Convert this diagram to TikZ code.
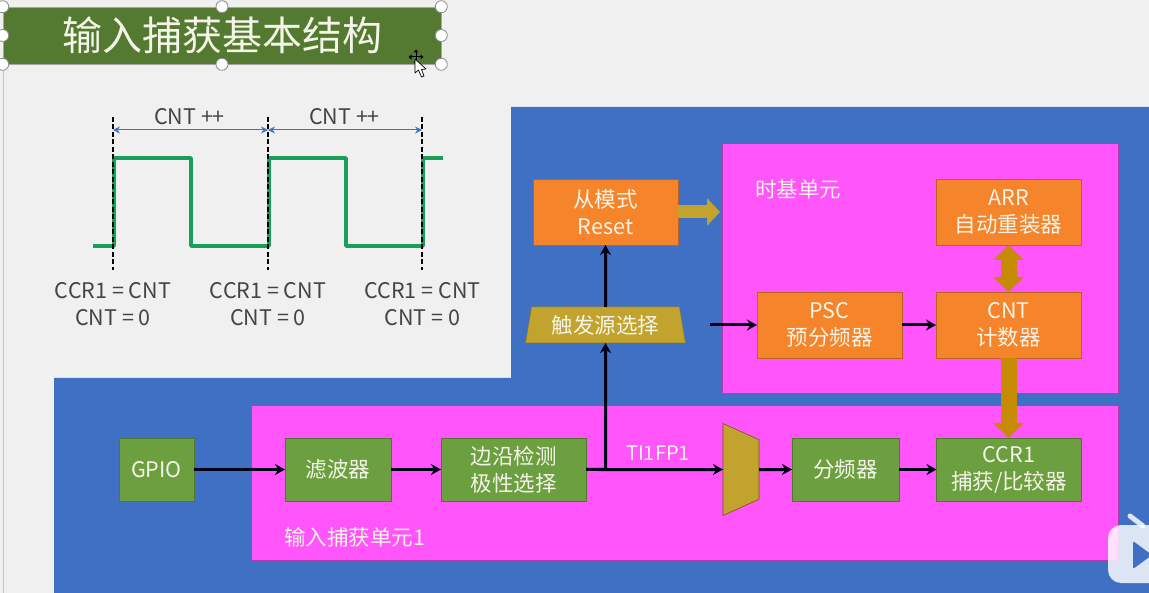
\documentclass[tikz,border=0pt]{standalone}
\usepackage{fontspec}
\setmainfont{Noto Sans CJK SC}
\usetikzlibrary{shapes.geometric,arrows.meta}
\definecolor{bgc}{HTML}{F0F0F0}
\definecolor{bluec}{HTML}{3F70C4}
\definecolor{pinkc}{HTML}{FF55FA}
\definecolor{orangec}{HTML}{F6842A}
\definecolor{greenc}{HTML}{6C9F3F}
\definecolor{titlec}{HTML}{537A30}
\definecolor{mustc}{HTML}{C2A32D}
\definecolor{busc}{HTML}{C68A05}
\definecolor{wavec}{HTML}{18A058}
\definecolor{txtc}{HTML}{F4F4E8}
\definecolor{grayt}{HTML}{444444}
\definecolor{arrb}{HTML}{4472C4}
\tikzset{
 x=1pt,y=-1pt,
 box/.style={draw=#1!75!black,line width=.6pt,fill=#1,text=txtc,align=center,inner sep=0pt,outer sep=0pt,font=\fontsize{21.5}{27}\selectfont},
 obox/.style={box=orangec,minimum width=145pt,minimum height=66pt},
 gbox/.style={box=greenc,minimum height=63pt},
 region/.style={fill=pinkc,draw=pinkc!70!black,line width=.5pt,inner sep=0pt,outer sep=0pt},
 sig/.style={line width=3pt,draw=black!90!blue,-{Stealth[length=10pt,width=11pt]}},
 bus/.style={line width=16pt,draw=busc},
 handle/.style={circle,draw=black!45,fill=white,line width=.8pt,minimum size=12pt,inner sep=0pt},
 dashv/.style={draw=black,line width=1.6pt,dash pattern=on 5pt off 2.5pt},
 span/.style={draw=arrb,line width=1pt,{Stealth[length=7pt,width=7pt]}-{Stealth[length=7pt,width=7pt]}},
 gtext/.style={text=grayt,align=center,font=\fontsize{21.5}{27}\selectfont,inner sep=0pt},
 wtext/.style={text=txtc,font=\fontsize{21.5}{26}\selectfont,inner sep=0pt},
}
\begin{document}
\begin{tikzpicture}
\useasboundingbox (0,0) rectangle (1149,593);
\fill[bgc] (0,0) rectangle (1149,593);
\draw[black!22,line width=1pt] (3,64) -- (3,593);
% blue backdrop
\fill[bluec] (511,107) -- (1149,107) -- (1149,593) -- (54,593) -- (54,378) -- (511,378) -- cycle;
% regions
\node[region,minimum width=396pt,minimum height=250pt] (tb) at (920,268) {};
\node[region,minimum width=867pt,minimum height=155pt] (ic) at (684.5,482.5) {};
\node[wtext,anchor=west] (tbl) at (755,189) {时基单元};
\node[wtext,anchor=west] (icl) at (284,537) {输入捕获单元1};
% title
\node[fill=titlec,draw=black!35,line width=.6pt,minimum width=438pt,minimum height=57pt,inner sep=0pt,text=txtc,font=\fontsize{40}{44}\selectfont] (title) at (222,35.5) {\raisebox{-1.5pt}{输入捕获基本结构}};
\foreach \a/\n in {north west/h1,north/h2,north east/h3,west/h4,east/h5,south west/h6,south/h7,south east/h8}
  \node[handle] (\n) at (title.\a) {};
% cursor
\draw[black,line width=1pt] (411,57) -- (421,57) (416,52) -- (416,62);
\fill[black] (416,49.5) -- (413.5,52.5) -- (418.5,52.5) -- cycle (416,64.5) -- (413.5,61.5) -- (418.5,61.5) -- cycle
  (408.5,57) -- (411.5,54.5) -- (411.5,59.5) -- cycle (423.5,57) -- (420.5,54.5) -- (420.5,59.5) -- cycle;
\draw[black,fill=white,line width=.7pt,line join=round] (415,59) -- (415,73) -- (418.5,70) -- (421.5,77) -- (424,76) -- (421.5,69.5) -- (426,69) -- cycle;
% waveform
\coordinate (d1t) at (113,117); \coordinate (d1b) at (113,270);
\coordinate (d2t) at (268,117); \coordinate (d2b) at (268,270);
\coordinate (d3t) at (422,117); \coordinate (d3b) at (422,270);
\draw[wavec,line width=3.4pt,line join=round] (93,246) -- (114,246) -- (114,158) -- (191,158) -- (191,246) -- (269,246) -- (269,158) -- (346,158) -- (346,246) -- (423,246) -- (423,158) -- (443,158);
\draw[dashv] (d1t) -- (d1b);
\draw[dashv] (d2t) -- (d2b);
\draw[dashv] (d3t) -- (d3b);
\coordinate (a1) at (113,130); \coordinate (a2) at (268,130); \coordinate (a3) at (422,130);
\draw[span] (a1) -- (a2);
\draw[span] (a2) -- (a3);
\node[gtext] (c1) at (189.5,117) {CNT ++};
\node[gtext] (c2) at (344.5,117) {CNT ++};
\node[gtext] (l1) at (113,304) {CCR1 = CNT\\CNT = 0};
\node[gtext] (l2) at (268,304) {CCR1 = CNT\\CNT = 0};
\node[gtext] (l3) at (422.5,304) {CCR1 = CNT\\CNT = 0};
% orange boxes
\node[obox] (slave) at (605.5,212) {从模式\\Reset};
\node[obox] (arr) at (1008.5,212) {ARR\\自动重装器};
\node[obox] (psc) at (829.5,325) {PSC\\预分频器};
\node[obox] (cnt) at (1008.5,325) {CNT\\计数器};
% trigger select
\node[trapezium,trapezium left angle=77.5,trapezium right angle=77.5,trapezium stretches=true,minimum width=160pt,minimum height=36pt,fill=mustc,draw=mustc!75!black,line width=.5pt,inner sep=0pt,outer sep=0pt,text=txtc,font=\fontsize{21.5}{24}\selectfont] (trig) at (605.5,325) {触发源选择};
% green boxes
\node[gbox,minimum width=75pt] (gpio) at (156.5,469.5) {GPIO};
\node[gbox,minimum width=106pt] (flt) at (338,469.5) {滤波器};
\node[gbox,minimum width=145pt] (edge) at (513.5,469.5) {边沿检测\\极性选择};
\node[gbox,minimum width=107pt] (div) at (845.5,469.5) {分频器};
\node[gbox,minimum width=145pt] (ccr) at (1009,469.5) {CCR1\\捕获/比较器};
% mux
\node[trapezium,rotate=-90,trapezium left angle=76,trapezium right angle=76,trapezium stretches=true,minimum width=92pt,minimum height=36pt,fill=mustc,draw=black!45!mustc,line width=.6pt,inner sep=0pt,outer sep=0pt] (mux) at (741,469.5) {\phantom{x}};
% connectors
\coordinate (tap) at (605.5,469.5);
\coordinate (pscin) at (710,325);
\draw[sig] (gpio) -- (flt);
\draw[sig] (flt) -- (edge);
\draw[sig] (edge.east) -- (mux.south);
\draw[sig] (mux.north) -- (div.west);
\draw[sig] (div) -- (ccr);
\draw[sig] (tap) -- (trig.south);
\draw[sig] (trig.north) -- (slave.south);
\draw[sig] (pscin) -- (psc.west);
\draw[sig] (psc) -- (cnt);
\node[wtext,font=\fontsize{20}{24}\selectfont] (ti) at (658,453) {TI1FP1};
% buses
\draw[line width=13pt,draw=mustc,-{Triangle[length=13pt,width=27pt]},shorten >=2pt] (slave.east) -- (slave.east -| tb.west);
\draw[bus,{Triangle[length=15pt,width=30pt]}-{Triangle[length=15pt,width=30pt]}] (arr) -- (cnt);
\draw[bus,-{Triangle[length=15pt,width=30pt]}] (cnt) -- (cnt.center |- ccr.north);
% watermark
\fill[white,fill opacity=.82,rounded corners=13pt] (1108,525) rectangle (1165,583);
\draw[white,opacity=.82,line width=5pt,line cap=round] (1130,516) -- (1143,526);
\fill[bluec,rounded corners=2pt] (1133,541) -- (1133,569) -- (1152,555) -- cycle;
\end{tikzpicture}
\end{document}
